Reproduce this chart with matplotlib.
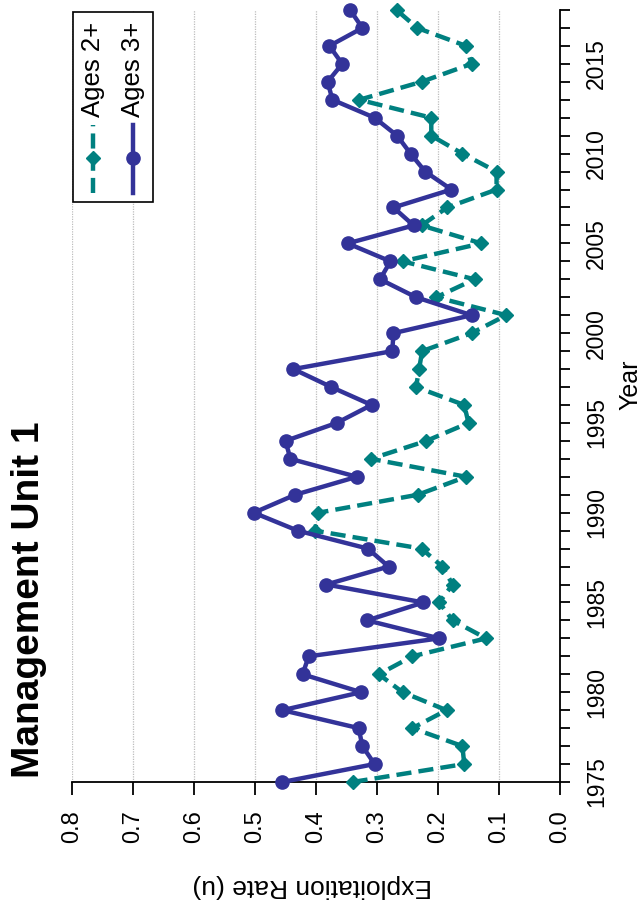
import matplotlib
matplotlib.use("Agg")
import matplotlib.pyplot as plt
from matplotlib.lines import Line2D
from matplotlib.patches import Rectangle
import numpy as np

plt.rcParams['font.family'] = ['Liberation Sans', 'DejaVu Sans']

# exploitation rate by year, Management Unit 1
years = list(range(1975, 2019))
ages_2plus = [0.340, 0.157, 0.160, 0.242, 0.186, 0.258, 0.297, 0.242, 0.121, 0.176,
              0.198, 0.176, 0.193, 0.227, 0.402, 0.396, 0.233, 0.154, 0.310, 0.219,
              0.150, 0.157, 0.236, 0.231, 0.226, 0.145, 0.088, 0.203, 0.140, 0.258,
              0.129, 0.227, 0.185, 0.104, 0.104, 0.160, 0.211, 0.211, 0.329, 0.227,
              0.145, 0.154, 0.234, 0.268]
ages_3plus = [0.455, 0.304, 0.324, 0.330, 0.455, 0.326, 0.422, 0.412, 0.198, 0.316,
              0.224, 0.383, 0.281, 0.315, 0.430, 0.502, 0.434, 0.333, 0.442, 0.450,
              0.366, 0.309, 0.375, 0.437, 0.275, 0.273, 0.145, 0.236, 0.295, 0.278,
              0.348, 0.240, 0.273, 0.178, 0.221, 0.245, 0.267, 0.304, 0.373, 0.381,
              0.357, 0.378, 0.324, 0.344]
rate_ticks = [0.0, 0.1, 0.2, 0.3, 0.4, 0.5, 0.6, 0.7, 0.8]
year_ticks = [1975, 1980, 1985, 1990, 1995, 2000, 2005, 2010, 2015]

teal = '#008080'
navy = '#333399'

W, H = 643, 909
fig = plt.figure(figsize=(W / 100, H / 100), dpi=100)
ax = fig.add_axes([72 / W, (H - 782) / H, (560 - 72) / W, (782 - 10) / H])

# page is turned on its side: rate runs right-to-left, years run upward
ax.plot(ages_2plus, years, color=teal, lw=3.2, dashes=(3.4, 1.6),
        marker='D', ms=7, mfc=teal, mec=teal, zorder=3, clip_on=False)
ax.plot(ages_3plus, years, color=navy, lw=3.2, marker='o', ms=9.5,
        mfc=navy, mec=navy, zorder=4, clip_on=False)

ax.set_xlim(0.8, 0.0)
ax.set_ylim(1975, 2018)
ax.set_xticks(rate_ticks)
ax.set_xticklabels([f'{v:.1f}' for v in rate_ticks], rotation=90, fontsize=17)
ax.set_yticks(year_ticks)
ax.set_yticks(years, minor=True)
ax.set_yticklabels([str(y) for y in year_ticks], rotation=90, va='center', fontsize=16.5)

ax.yaxis.tick_right()
ax.tick_params(axis='x', direction='out', length=9, width=1.3, pad=11)
ax.tick_params(axis='y', which='both', direction='out', length=7, width=1.3, pad=11)
ax.tick_params(axis='y', which='minor', right=True, left=False)

for side in ['left', 'top']:
    ax.spines[side].set_visible(False)
for side in ['right', 'bottom']:
    ax.spines[side].set_linewidth(1.3)

ax.grid(axis='x', color='#bdbdbd', lw=0.9, ls=(0, (1, 1)))
ax.set_axisbelow(True)

fig.text(630 / W, 1 - 385 / H, 'Year', rotation=90, ha='center', va='center', fontsize=18)
fig.text(312 / W, 1 - 886 / H, 'Exploitation Rate (u)', rotation=180,
         ha='center', va='center', fontsize=19)
fig.text(11 / W, 1 - 778 / H, 'Management Unit 1', rotation=90, ha='left', va='bottom',
         fontsize=28, fontweight='bold')

# legend box, drawn sideways to follow the page
def px(x, y):
    return ((x - 72) / 488, (782 - y) / 772)

x0, y0 = px(73, 202)
x1, y1 = px(153, 12)
ax.add_patch(Rectangle((x0, y0), x1 - x0, y1 - y0, transform=ax.transAxes,
                       fc='white', ec='black', lw=1.2, zorder=5, clip_on=False))
entries = [('Ages 2+', teal, 'D', 7, (3.4, 1.6), 93),
           ('Ages 3+', navy, 'o', 9.5, None, 133)]
for label, col, mk, ms, dsh, xp in entries:
    xa, ya = px(xp, 193)
    _, yb = px(xp, 125)
    _, ym = px(xp, 158)
    ln = Line2D([xa, xa], [ya, yb], color=col, lw=3.2, transform=ax.transAxes,
                zorder=6, clip_on=False)
    if dsh:
        ln.set_dashes(dsh)
    ax.add_line(ln)
    ax.add_line(Line2D([xa], [ym], marker=mk, ms=ms, color=col, ls='none',
                       transform=ax.transAxes, zorder=7, clip_on=False))
    tx, ty = px(xp, 117)
    ax.text(tx, ty, label, rotation=90, ha='center', va='bottom', fontsize=18.5,
            transform=ax.transAxes, zorder=7)

fig.savefig('out.png', dpi=100)
